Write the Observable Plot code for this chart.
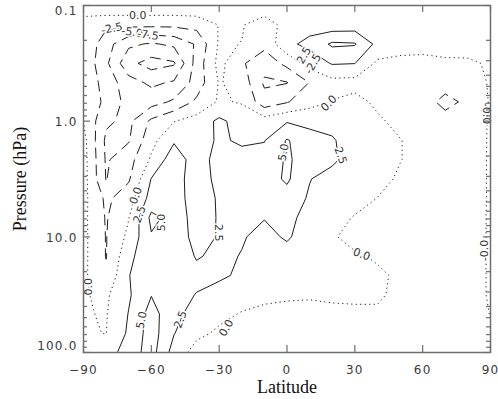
<!DOCTYPE html>
<html><head><meta charset="utf-8">
<script src="https://cdn.jsdelivr.net/npm/d3@7"></script>
<script src="https://cdn.jsdelivr.net/npm/@observablehq/plot@0.6"></script>
<style>
html,body{margin:0;padding:0;background:#fff;}
#chart svg{display:block;}
#chart g[aria-label="x-axis tick label"] text,
#chart g[aria-label="y-axis tick label"] text{letter-spacing:1.2px;}
</style>
</head><body>
<div id="chart"></div>
<script>
// grid: latitude columns and pressure rows (hPa, evenly spaced in log p)
const latitudes = [-90,-80,-70,-60,-50,-40,-30,-20,-10,0,10,20,30,40,50,60,70,80,90];
const pressureLevels = [0.1,0.147,0.215,0.316,0.464,0.681,1,1.47,2.15,3.16,4.64,6.81,10,14.7,21.5,31.6,46.4,68.1,100];

// field values, one array per pressure level
const p0_100  = [2.0,2.0,2.0,2.0,2.0,2.0,1.5,1.5,1.8,1.5,1.2,1.0,1.0,1.0,1.0,1.0,1.0,1.0,1.0];
const p0_147  = [-1.5,-1.9,-1.9,-1.9,-1.9,-1.6,0.1,0.2,-1.4,1.0,1.5,1.0,1.2,1.5,1.2,1.0,1.0,0.8,0.8];
const p0_215  = [-0.3,-4.0,-7.0,-7.8,-7.0,-4.7,0.3,-0.05,-1.8,1.9,3.2,5.4,5.2,1.8,1.3,1.0,1.0,0.8,0.6];
const p0_316  = [-0.5,-4.5,-9.3,-11.0,-10.3,-4.0,0.8,-2.2,-4.0,-1.8,1.0,2.7,2.55,-0.45,-0.87,-0.85,-0.43,-0.3,0.22];
const p0_464  = [-0.6,-3.5,-6.5,-8.0,-7.2,-4.0,0.2,-1.0,-5.4,-5.1,-2.4,-0.8,-0.9,-1.2,-1.2,-1.3,-1.5,-1.1,0.22];
const p0_681  = [-0.8,-3.0,-6.0,-6.0,-4.6,-2.0,0.3,-0.2,-4.0,-2.7,-0.9,0.1,0.8,-0.5,-1.0,-1.5,-3.2,-2.0,0.22];
const p1_00   = [-0.05,-4.6,-5.6,-2.0,-0.1,1.0,3.0,1.5,1.2,2.3,1.8,1.5,1.2,0.4,-0.7,-1.3,-1.6,-1.2,0.22];
const p1_47   = [0.8,-5.5,-5.2,-0.8,2.2,1.5,2.8,2.2,2.4,5.2,3.5,2.8,1.0,0.6,0.1,-1.0,-1.6,-1.1,0.22];
const p2_15   = [1.0,-5.3,-3.5,0.4,4.0,1.2,3.5,3.2,3.4,5.3,4.0,3.0,1.2,1.0,0.1,-1.0,-1.5,-1.0,0.22];
const p3_16   = [1.0,-5.1,-2.8,2.6,4.2,0.5,3.6,3.6,3.8,5.4,2.6,1.5,1.2,0.9,-0.4,-1.0,-1.3,-1.0,0.22];
const p4_64   = [0.7,-3.0,-1.2,3.5,4.3,0.6,2.9,3.3,3.2,4.0,2.2,1.4,1.2,-0.05,-1.0,-1.1,-1.1,-1.0,0.22];
const p6_81   = [0.6,-2.7,-0.1,5.6,4.2,1.3,2.7,3.0,2.6,3.2,1.6,1.1,-0.2,-1.0,-1.1,-1.1,-1.0,-0.9,0.22];
const p10_0   = [0.6,-2.6,0.6,4.8,4.3,1.5,2.7,2.7,1.8,2.8,1.3,0.25,-0.8,-1.2,-1.2,-1.1,-1.0,-0.9,0.22];
const p14_7   = [0.6,-2.6,1.8,4.5,4.2,2.3,3.0,2.4,1.5,1.6,1.2,0.8,0.3,-0.3,-1.0,-1.1,-1.0,-0.9,0.22];
const p21_5   = [0.45,-2.0,2.4,4.5,4.0,3.2,2.9,2.1,1.3,1.0,1.0,0.8,0.5,0.4,-0.4,-1.0,-1.0,-0.9,0.22];
const p31_6   = [0.15,-0.4,2.2,4.9,3.5,2.4,1.6,1.0,0.5,0.3,0.25,0.3,0.3,0.3,-0.5,-1.0,-1.0,-0.9,0.22];
const p46_4   = [0.15,-0.15,2.6,6.0,3.2,1.5,0.6,-0.15,-0.5,-0.6,-0.7,-0.4,-0.3,-0.3,-0.6,-1.0,-1.0,-0.9,0.05];
const p68_1   = [0.2,-0.05,2.9,6.2,2.6,0.6,-0.4,-0.8,-1.0,-1.1,-1.1,-1.0,-0.9,-0.9,-1.0,-1.0,-1.0,-1.0,-0.5];
const p100_0  = [0.3,1.2,3.8,6.0,1.5,-1.0,-1.2,-1.3,-1.3,-1.2,-1.2,-1.2,-1.1,-1.1,-1.1,-1.0,-1.0,-1.0,-0.8];

const negativeLevels = [-10,-7.5,-5,-2.5];
const zeroLevels = [0];
const positiveLevels = [2.5,5];

const xTicks = [-90,-60,-30,0,30,60,90];
const yTicks = [0.1,1,10,100];
const yTickLabels = ["0.1","1.0","10.0","100.0"];

// contour labels as they appear on the picture
const labelLat   = [-66, -77.5, -68.5, -61.5, 18.5, 88.2, 87.3, 33, -26.8, -47.1, -64.3, -87.8, -65.2, -66.8, -55.5, -30.3, -1.5, 23.7, 7.5, 11.5];
const labelP     = [0.122, 0.158, 0.17, 0.18, 0.70, 0.86, 13.1, 14.2, 61.4, 51.9, 52.5, 27, 6.4, 4.4, 7.5, 9.2, 1.86, 1.98, 0.27, 0.32];
const labelText  = ["0.0","-2.5","-5.0","-7.5","0.0","-0.0","-0.0","0.0","0.0","2.5","5.0","0.0","2.5","0.0","5.0","2.5","5.0","2.5","2.5","-2.5"];
const labelAngle = [0, -12, 8, 8, -45, 90, -90, 20, -60, -70, -80, -90, -70, -70, -90, 90, -80, 70, -60, -60];

// the y scale is linear in log10(pressure)
const logp = p => Math.log10(p);
const rows = [p0_100,p0_147,p0_215,p0_316,p0_464,p0_681,p1_00,p1_47,p2_15,p3_16,p4_64,p6_81,p10_0,p14_7,p21_5,p31_6,p46_4,p68_1,p100_0];
const values = rows.flat();

const nx = latitudes.length, ny = pressureLevels.length;
const dLat = (latitudes[nx-1] - latitudes[0]) / (nx - 1);
const u0 = logp(pressureLevels[0]), uN = logp(pressureLevels[ny-1]);
const dU = (uN - u0) / (ny - 1);
const gridOpts = {
  width: nx, height: ny,
  x1: latitudes[0] - dLat/2, x2: latitudes[nx-1] + dLat/2,
  y1: u0 - dU/2, y2: uN + dU/2,
  value: d => d, fill: "none", stroke: "#1e1e1e", strokeWidth: 1, clip: true
};

const W = 498, H = 399, mL = 83, mR = 8, mT = 5, mB = 47;
const fw = W - mL - mR, fh = H - mT - mB;
const minorY = [];
for (const dec of [0.1,1,10]) for (let k = 2; k <= 9; k++) minorY.push(k*dec);
const yTickPos = yTicks.map(logp);
const axisColor = "#6e6e6e";
const labels = labelText.map((t,i) => ({lat: labelLat[i], p: labelP[i], text: t, angle: labelAngle[i]}));
const yFmt = d => yTickLabels[yTickPos.indexOf(d)];
const yAxisOpts = {tickSize: 0, tickPadding: 6, fontSize: 12, label: null, fill: "#3a3a3a", tickFormat: yFmt};

const chart = Plot.plot({
  width: W, height: H,
  marginLeft: mL, marginRight: mR, marginTop: mT, marginBottom: mB,
  style: {background: "#fff", color: "#333", fontFamily: "DejaVu Sans"},
  x: {domain: [-90, 90]},
  y: {domain: [yTickPos[0], yTickPos[yTickPos.length-1]], reverse: true},
  marks: [
    Plot.contour(values, {...gridOpts, thresholds: negativeLevels, strokeDasharray: "11,6"}),
    Plot.contour(values, {...gridOpts, thresholds: zeroLevels, strokeDasharray: "1.2,3.3"}),
    Plot.contour(values, {...gridOpts, thresholds: positiveLevels}),
    Plot.text(labels, {x: "lat", y: d => logp(d.p), text: "text", rotate: "angle", fontSize: 11, fill: "#333",
      stroke: "white", strokeWidth: 3, paintOrder: "stroke", fontFamily: "DejaVu Sans"}),
    Plot.frame({stroke: axisColor, strokeWidth: 1.5}),
    Plot.tickX(xTicks, {x: d => d, insetTop: fh - 7, stroke: axisColor, strokeWidth: 1.2}),
    Plot.tickX(xTicks, {x: d => d, insetBottom: fh - 7, stroke: axisColor, strokeWidth: 1.2}),
    Plot.tickY(yTickPos, {y: d => d, insetRight: fw - 7, stroke: axisColor, strokeWidth: 1.2}),
    Plot.tickY(minorY, {y: logp, insetRight: fw - 4, stroke: axisColor, strokeWidth: 1.2}),
    Plot.tickY(yTickPos, {y: d => d, insetLeft: fw - 7, stroke: axisColor, strokeWidth: 1.2}),
    Plot.tickY(minorY, {y: logp, insetLeft: fw - 4, stroke: axisColor, strokeWidth: 1.2}),
    Plot.axisX(xTicks, {tickSize: 0, tickPadding: 13, fontSize: 12, label: null, fill: "#3a3a3a",
      tickFormat: d => d < 0 ? "\u2212" + Math.abs(d) : String(d)}),
    Plot.axisY(yTickPos.slice(0, 1), {...yAxisOpts, dy: 6}),
    Plot.axisY(yTickPos.slice(1, 3), {...yAxisOpts, dy: 1}),
    Plot.axisY(yTickPos.slice(3), {...yAxisOpts, dy: -6}),
    Plot.text(["Latitude"], {frameAnchor: "bottom", textAnchor: "middle", dy: 40, lineAnchor: "bottom", fontFamily: "Liberation Serif", fontSize: 18, fill: "#111"}),
    Plot.text(["Pressure (hPa)"], {frameAnchor: "left", textAnchor: "middle", dx: -58, rotate: -90, lineAnchor: "bottom", fontFamily: "Liberation Serif", fontSize: 18, fill: "#111"})
  ]
});
document.getElementById("chart").appendChild(chart);
</script>
</body></html>
